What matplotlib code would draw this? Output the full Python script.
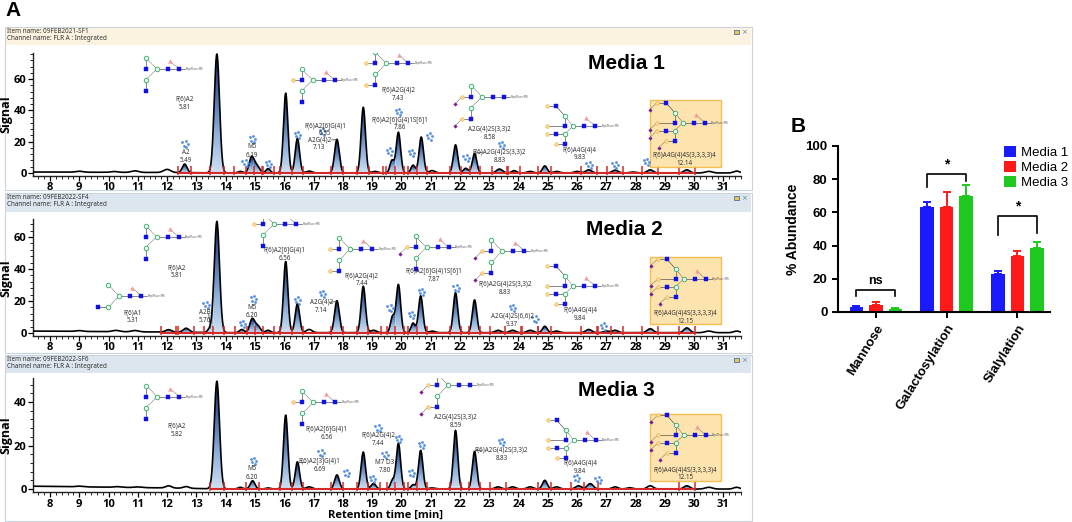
import re
import numpy as np
import matplotlib
matplotlib.use('Agg')
import matplotlib.pyplot as plt
from matplotlib.colors import LinearSegmentedColormap
from matplotlib.patches import Rectangle, PathPatch
from matplotlib.ticker import MultipleLocator

W, H = 1072, 522
XMIN, XMAX = 7.42, 31.6

# ---------------- chromatogram data (retention time, height, width, integrated) -------------
rt_m1 = [9.0, 10.2, 10.9, 12.0, 12.6, 13.7, 14.5, 14.88, 15.05, 15.45, 16.05, 16.45, 16.85, 17.8,
         18.7, 19.1, 19.68, 19.9, 20.4, 20.68, 21.05, 21.85, 22.2, 22.5, 23.35, 23.85, 24.4, 24.9,
         25.3, 26.0, 26.4, 27.3, 27.9, 28.5, 29.75, 30.5, 31.45]
ht_m1 = [0.6, 0.5, 1.0, 2.0, 5.5, 76, 1.0, 9.5, 5.0, 2.8, 51, 22, 1.2, 21.5,
         42, 1.0, 8, 26, 5, 23, 1.5, 18, 3, 12.5, 2.5, 1.5, 1.0, 4.5,
         1.0, 1.0, 2.0, 1.8, 0.6, 2.0, 2.0, 1.0, 1.2]
wd_m1 = [0.12, 0.12, 0.12, 0.12, 0.08, 0.09, 0.08, 0.08, 0.1, 0.07, 0.075, 0.075, 0.1, 0.08,
         0.075, 0.1, 0.07, 0.075, 0.07, 0.075, 0.1, 0.075, 0.08, 0.075, 0.1, 0.08, 0.1, 0.08,
         0.1, 0.1, 0.1, 0.1, 0.1, 0.1, 0.1, 0.12, 0.1]
in_m1 = [0, 0, 0, 0, 1, 1, 1, 1, 1, 1, 1, 1, 0, 1,
         1, 1, 1, 1, 1, 1, 0, 1, 1, 1, 1, 1, 0, 1,
         0, 0, 1, 1, 0, 1, 1, 0, 0]
bl_t_m1, bl_y_m1 = [7.42, 12.0, 14.0, 31.6], [0.6, 0.3, 0.0, 0.0]

rt_m2 = [9.0, 10.25, 10.9, 12.05, 12.65, 13.45, 13.7, 14.55, 14.9, 15.08, 15.45, 16.05, 16.45, 16.85,
         17.8, 18.7, 19.05, 19.7, 19.9, 20.4, 20.66, 21.05, 21.85, 22.5, 23.3, 23.8, 24.4, 24.9,
         25.3, 26.4, 27.0, 27.3, 28.5, 29.75, 30.5, 31.45]
ht_m2 = [0.5, 0.8, 0.8, 1.5, 2.5, 2.0, 69.5, 2.0, 8.0, 4.5, 1.5, 44.5, 18, 2.0,
         20, 29, 1.5, 10, 30, 6, 23, 1.0, 25, 20.5, 1.5, 1.5, 1.5, 4.0,
         1.0, 2.0, 1.0, 1.5, 2.5, 3.0, 1.0, 1.0]
wd_m2 = [0.12, 0.12, 0.12, 0.1, 0.1, 0.07, 0.09, 0.08, 0.08, 0.1, 0.08, 0.075, 0.075, 0.1,
         0.08, 0.075, 0.1, 0.07, 0.075, 0.07, 0.075, 0.1, 0.075, 0.075, 0.1, 0.1, 0.1, 0.08,
         0.1, 0.1, 0.1, 0.1, 0.1, 0.1, 0.12, 0.1]
in_m2 = [0, 0, 0, 1, 1, 1, 1, 1, 1, 1, 1, 1, 1, 0,
         1, 1, 1, 1, 1, 1, 1, 0, 1, 1, 1, 1, 1, 1,
         0, 1, 1, 1, 1, 1, 0, 0]
bl_t_m2, bl_y_m2 = [7.42, 12.0, 14.0, 31.6], [1.2, 0.6, 0.2, 0.2]

rt_m3 = [9.0, 10.3, 11.0, 12.05, 12.65, 13.7, 14.5, 14.92, 15.45, 16.05, 16.45, 16.85, 17.8, 18.7,
         19.05, 19.7, 19.9, 20.4, 20.66, 21.05, 21.85, 22.5, 23.3, 23.8, 24.4, 24.9, 25.3, 26.05,
         26.45, 27.3, 27.8, 28.5, 29.75, 30.5, 31.45]
ht_m3 = [0.3, 0.3, 0.3, 1.0, 0.8, 49.5, 0.8, 3.8, 0.5, 34, 12.5, 1.0, 6.5, 17,
         2.5, 4.0, 21, 2.0, 17.8, 0.5, 27, 17.3, 1.0, 1.0, 1.0, 4.0, 1.0, 1.5,
         2.5, 1.0, 0.6, 1.5, 1.5, 0.8, 0.8]
wd_m3 = [0.12, 0.12, 0.12, 0.1, 0.1, 0.09, 0.08, 0.08, 0.08, 0.075, 0.075, 0.1, 0.08, 0.075,
         0.08, 0.07, 0.075, 0.07, 0.075, 0.1, 0.075, 0.075, 0.1, 0.1, 0.1, 0.08, 0.1, 0.1,
         0.1, 0.1, 0.1, 0.1, 0.1, 0.12, 0.1]
in_m3 = [0, 0, 0, 0, 0, 1, 0, 1, 0, 1, 1, 0, 1, 1,
         1, 1, 1, 1, 1, 0, 1, 1, 1, 0, 0, 1, 0, 1,
         1, 0, 0, 0, 1, 0, 0]
bl_t_m3, bl_y_m3 = [7.42, 12.0, 14.0, 31.6], [1.3, 0.5, 0.0, 0.0]

# peak annotations: (text, x, y)
lab_m1 = [('F(6)A2\n5.81', 12.61, 44.6), ('A2\n5.49', 12.64, 10.7), ('M5\n6.19', 14.9, 14.0),
          ('F(6)A2[6]G(4)1\n6.55', 17.39, 27.7), ('A2G(4)2\n7.13', 17.2, 18.6),
          ('F(6)A2G(4)2\n7.43', 19.89, 50.3), ('F(6)A2[6]G(4)1S[6]1\n7.86', 19.95, 31.5),
          ('A2G(4)2S(3,3)2\n8.58', 23.02, 25.3), ('F(6)A2G(4)2S(3,3)2\n8.83', 23.35, 10.6),
          ('F(6)A4G(4)4\n9.83', 26.09, 12.3), ('F(6)A4G(4)4S(3,3,3,3)4\n12.14', 29.67, 8.6)]
lab_m2 = [('F(6)A1\n5.31', 10.83, 10.1), ('A2B\n5.76', 13.3, 10.5), ('M5\n6.20', 14.9, 13.4),
          ('F(6)A2\n5.81', 12.32, 38.3), ('F(6)A2[6]G(4)1\n6.56', 16.02, 49.3),
          ('A2G(4)2\n7.14', 17.27, 16.8), ('F(6)A2G(4)2\n7.44', 18.64, 33.3),
          ('F(6)A2[6]G(4)1S[6]1\n7.87', 21.1, 36.1), ('F(6)A2G(4)2S(3,3)2\n8.83', 23.53, 28.2),
          ('A2G(4)2S(6,6)2\n9.37', 23.78, 7.9), ('F(6)A4G(4)4\n9.84', 26.1, 11.9),
          ('F(6)A4G(4)4S(3,3,3,3)4\n12.15', 29.7, 10.0)]
lab_m3 = [('F(6)A2\n5.82', 12.32, 26.9), ('M5\n6.20', 14.9, 7.4),
          ('F(6)A2[6]G(4)1\n6.56', 17.45, 25.8), ('F(6)A2[3]G(4)1\n6.69', 17.2, 10.9),
          ('F(6)A2G(4)2\n7.44', 19.2, 23.0), ('M7 D3\n7.80', 19.43, 10.5),
          ('A2G(4)2S(3,3)2\n8.59', 21.86, 31.2), ('F(6)A2G(4)2S(3,3)2\n8.83', 23.42, 16.1),
          ('F(6)A4G(4)4\n9.84', 26.1, 10.0), ('F(6)A4G(4)4S(3,3,3,3)4\n12.15', 29.7, 7.0)]

# leader lines from a label to its peak: (x0, y0, x1, y1)
lead_m1 = [(17.62, 21.1, 17.78, 21.3), (22.55, 12.8, 22.75, 13.0)]
lead_m2 = [(17.55, 19.2, 17.78, 19.6), (13.42, 12.0, 13.48, 3.0)]
lead_m3 = [(16.5, 12.6, 16.72, 12.6), (22.5, 17.9, 22.72, 17.9)]

# glycan cartoons: (structure, x, y of core mannose)
gly_m1 = [('F-A2', 11.65, 66.5), ('F-A2G1', 16.97, 59.4), ('F-A2G2', 19.49, 70),
          ('A2G2S2', 22.76, 48.8), ('F-A4G4', 25.86, 30), ('F-A4G4S4', 29.61, 32.2)]
gly_m2 = [('F-A1', 10.37, 23.1), ('F-A2', 11.64, 60.2), ('F-A2G1', 15.65, 68.1),
          ('F-A2G2', 18.26, 52.5), ('F-A2G1S1', 20.86, 53.5), ('F-A2G2S2', 23.45, 51.2),
          ('F-A4G4', 25.86, 29.4), ('F-A4G4S4', 29.64, 33.8)]
gly_m3 = [('F-A2', 11.66, 42.5), ('F-A2G1', 16.99, 39.8), ('A2G2S2', 21.6, 47.8),
          ('F-A4G4', 25.88, 22.5), ('F-A4G4S4', 29.64, 24.8)]

# small blue "unassigned glycan" icons
ico_m1 = [(12.6, 18.3), (14.66, 6.2), (14.9, 21.5), (15.46, 5.8), (16.45, 24.3), (17.3, 26.4),
          (19.58, 13.6), (19.9, 38.9), (20.34, 12.6), (20.95, 23.2), (22.2, 9.4), (23.42, 17.9),
          (26.4, 5.1), (27.28, 5.1), (28.36, 7.2)]
ico_m2 = [(13.32, 17.5), (14.94, 21), (14.56, 5.6), (16.45, 20.2), (17.3, 24.4), (19.6, 15.4),
          (20.34, 11.2), (20.68, 25.8), (21.86, 27.9), (23.78, 15.8), (24.55, 8.5), (26.9, 4)]
ico_m3 = [(14.94, 12.9), (17.24, 16.4), (18.12, 7.2), (19.01, 4.6), (19.2, 27.9), (19.43, 15.6),
          (19.9, 23), (20.34, 7.2), (20.68, 20.2), (23.42, 21.5), (25.97, 4.9), (26.71, 4.1)]

# highlighted sialylated tetra-antennary peak box: (x0, y0, x1, y1)
box_m1 = (28.5, 4.0, 30.9, 46.6)
box_m2 = (28.5, 5.6, 30.92, 47.3)
box_m3 = (28.5, 3.7, 30.92, 34.5)

media_pos = [(27.68, 70), (27.6, 64.4), (27.34, 45.5)]
item_names = ['09FEB2021-SF1', '09FEB2022-SF4', '09FEB2022-SF6']

# ---------------- bar chart data -------------
cats = ['Mannose', 'Galactosylation', 'Sialylation']
media = ['Media 1', 'Media 2', 'Media 3']
mean_m1 = [2.8, 63.5, 22.7]
mean_m2 = [4.0, 63.0, 34.0]
mean_m3 = [1.7, 70.0, 38.5]
err_m1 = [1.0, 3.0, 1.8]
err_m2 = [2.2, 9.0, 2.5]
err_m3 = [0.7, 6.5, 3.5]
sig_labels = ['ns', '*', '*']
sig_top = [13.2, 83, 58]
sig_drop = [(9.6, 9.6), (75, 79), (46.4, 47.4)]

# ---------------- figure -------------
fig = plt.figure(figsize=(W / 100, H / 100), dpi=100)


def rect(l, t, r, b):
    return [l / W, 1 - b / H, (r - l) / W, (b - t) / H]


bg = fig.add_axes([0, 0, 1, 1], zorder=-5)
bg.set_xlim(0, W)
bg.set_ylim(H, 0)
bg.axis('off')

windows = [(27, 190, 44, '#fbf3df'), (193, 353, 211, '#dde6ee'), (355, 521, 372, '#dde6ee')]
for k, (top, bot, hb, hc) in enumerate(windows):
    bg.add_patch(Rectangle((5, top), 747, bot - top, fc='white', ec='#c9d3dc', lw=0.8))
    bg.add_patch(Rectangle((5.5, top + 0.5), 745, hb - top, fc=hc, ec='none'))
    bg.text(7, top + 4.8, 'Item name: ' + item_names[k], fontsize=4.6, color='#333333',
            va='center', family='Noto Sans')
    bg.text(7, top + 12, 'Channel name: FLR A : Integrated', fontsize=4.6, color='#333333',
            va='center', family='Noto Sans')
    bg.add_patch(Rectangle((734, top + 2.5), 4.5, 4.5, fc='#e8c84a', ec='#4a6fb0', lw=0.6))
    bg.text(744, top + 4.8, '×', fontsize=5, color='#6080a0', va='center', ha='center')

bg.text(13, 11, 'A', fontsize=15, fontweight='bold', ha='center', va='center', family='Liberation Sans')
bg.text(798, 126, 'B', fontsize=15, fontweight='bold', ha='center', va='center', family='Liberation Sans')
bg.text(385, 515.5, 'Retention time [min]', fontsize=8, fontweight='bold', family='Open Sans',
        ha='center', va='center')

PEAK_CMAP = LinearSegmentedColormap.from_list('pk', ['#cfe0f2', '#8fb1da', '#4a6ca8', '#16255e'])
GRAD = np.linspace(0, 1, 128).reshape(-1, 1)

STY = {'glc': dict(marker='s', ms=3.3, mfc='#1010e8', mec='#1010e8', mew=0.3),
       'man': dict(marker='o', ms=3.2, mfc='white', mec='#3cb371', mew=0.7),
       'gal': dict(marker='o', ms=2.6, mfc='#ffd68a', mec='#e5b55a', mew=0.4),
       'sia': dict(marker='D', ms=1.8, mfc='#7a1a8a', mec='#7a1a8a', mew=0.3),
       'fuc': dict(marker='^', ms=2.8, mfc='#f49a9a', mec='#f49a9a', mew=0.3)}


def glycan(ax, x0, y0, kind, sx, sy):
    fuc = kind.startswith('F')
    n_ant = int(re.search(r'A(\d)', kind).group(1))
    g = re.search(r'G(\d)', kind)
    s = re.search(r'S(\d)', kind)
    n_gal = int(g.group(1)) if g else 0
    n_sia = int(s.group(1)) if s else 0
    res = [('man', 0, 0), ('glc', 11, 0), ('glc', 22, 0)]
    bonds = [(0, 1, '-'), (1, 2, '-')]
    if n_ant == 4:
        arms = [(-8, 10), (-8, -8)]
        ants = [(0, -17, 20, -26), (0, -8, 0, -26), (1, -17, -8, -26), (1, -8, -18, -17)]
    else:
        arms = [(-11, 11), (-11, -11)]
        ants = [(0, -11, 0, -20), (1, -11, -22, -20)]
        if n_ant == 1:
            ants = [(1, -21, -11, -30)]
    arm_idx = []
    for dx, dy in arms:
        res.append(('man', dx, dy))
        arm_idx.append(len(res) - 1)
        bonds.append((0, len(res) - 1, '--'))
    for k, (a, dx, dy, gx) in enumerate(ants):
        res.append(('glc', dx, dy))
        gi = len(res) - 1
        bonds.append((arm_idx[a], gi, '-'))
        if k < n_gal:
            res.append(('gal', gx, dy))
            li = len(res) - 1
            bonds.append((gi, li, '-'))
            if k < n_sia:
                res.append(('sia', gx - 7, dy - 7))
                bonds.append((li, len(res) - 1, '--'))
    if fuc:
        res.append(('fuc', 13, 8))
        bonds.append((2, len(res) - 1, '--'))
    X = [x0 + r[1] / sx for r in res]
    Y = [y0 + r[2] / sy for r in res]
    for i, j, ls in bonds:
        ax.plot([X[i], X[j]], [Y[i], Y[j]], ls=ls, color='#444444', lw=0.45,
                dashes=(1.5, 1.0) if ls == '--' else (None, None), zorder=7)
    ax.plot([X[2], x0 + 28 / sx], [y0, y0], color='#444444', lw=0.45, zorder=7)
    ax.text(x0 + 28.5 / sx, y0, 'RapiFluor-MS', fontsize=2.0, color='#555555', va='center',
            ha='left', zorder=7)
    for (t, _, _), xx, yy in zip(res, X, Y):
        ax.plot(xx, yy, ls='none', zorder=8, **STY[t])


def cluster(ax, x0, y0, sx, sy):
    off = [(-2.5, 2.0), (1.0, 3.2), (3.0, 0.2), (-1.0, -1.2), (1.8, -3.0)]
    ax.plot([x0 + dx / sx for dx, _ in off], [y0 + dy / sy for _, dy in off], ls='none',
            marker='o', ms=1.7, mfc='#4d8fe6', mec='#2f6fd0', mew=0.2, zorder=6)


def chromatogram(ax, rt, ht, wd, integ, bl_t, bl_y, ylim, labels, leads, glys, icons, box, mpos, title):
    ax.set_xlim(XMIN, XMAX)
    ax.set_ylim(*ylim)
    bb = ax.get_position()
    sx = bb.width * W / (XMAX - XMIN)
    sy = bb.height * H / (ylim[1] - ylim[0])
    x = np.linspace(XMIN, XMAX, 5000)
    y = np.interp(x, bl_t, bl_y)
    for t, h, w in zip(rt, ht, wd):
        y = y + h * np.exp(-0.5 * ((x - t) / w) ** 2)
    pk = [(t, w) for t, w, f in zip(rt, wd, integ) if f]
    bounds = []
    for i, (t, w) in enumerate(pk):
        a, b = t - 2.7 * w, t + 2.7 * w
        if i > 0:
            a = max(a, (pk[i - 1][0] + t) / 2)
        if i < len(pk) - 1:
            b = min(b, (t + pk[i + 1][0]) / 2)
        bounds.append((a, b))
    for a, b in bounds:
        m = (x >= a) & (x <= b)
        xs, ys = x[m], y[m]
        poly = ax.fill_between(xs, 0, ys, facecolor='none', edgecolor='none')
        patch = PathPatch(poly.get_paths()[0], transform=ax.transData, fc='none', ec='none')
        ax.add_patch(patch)
        im = ax.imshow(GRAD, extent=(a, b, 0, ys.max()), origin='lower', cmap=PEAK_CMAP,
                       aspect='auto', zorder=1.5, interpolation='bilinear')
        im.set_clip_path(patch)
    ax.plot(x, y, color='black', lw=1.2, zorder=3)
    ax.hlines(0, bounds[0][0], bounds[-1][1], color='#d42a2a', lw=1.5, zorder=4)
    tick = 7 / sy
    edges = sorted(set([round(v, 3) for ab in bounds for v in ab]))
    ax.vlines(edges, -0.3 * tick, tick, color='#d42a2a', lw=1.1, zorder=4)

    if box is not None:
        ax.add_patch(Rectangle((box[0], box[1]), box[2] - box[0], box[3] - box[1],
                               fc='#fde0a0', ec='#f2b63c', lw=1.0, alpha=0.85, zorder=5))
    for txt, tx, ty in labels:
        ax.text(tx, ty, txt, fontsize=4.5, color='#333333', ha='center', va='center',
                family='Noto Sans', linespacing=1.25, zorder=9)
    for x0, y0, x1, y1 in leads:
        ax.plot([x0, x1], [y0, y1], color='#333333', lw=0.5, zorder=9)
    for kind, gx, gy in glys:
        glycan(ax, gx, gy, kind, sx, sy)
    for cx, cy in icons:
        cluster(ax, cx, cy, sx, sy)
    ax.text(mpos[0], mpos[1], title, fontsize=15, fontweight='bold', ha='center', va='center',
            family='Liberation Sans', zorder=9)

    ax.patch.set_alpha(0)
    for sp in ['top', 'right']:
        ax.spines[sp].set_visible(False)
    for sp in ['left', 'bottom']:
        ax.spines[sp].set_color('#222222')
        ax.spines[sp].set_linewidth(1.0)
    ax.set_xticks(range(8, 32))
    ax.xaxis.set_minor_locator(MultipleLocator(0.2))
    ax.yaxis.set_major_locator(MultipleLocator(20))
    ax.yaxis.set_minor_locator(MultipleLocator(4))
    ax.tick_params(which='major', length=3.5, width=0.9, labelsize=8, pad=1)
    ax.tick_params(which='minor', length=2, width=0.6)
    for lab in ax.get_xticklabels() + ax.get_yticklabels():
        lab.set_fontweight('bold')
        lab.set_family('Open Sans')
    ax.set_ylabel('Signal', fontsize=9, fontweight='bold', family='Open Sans')
    ax.yaxis.set_label_coords(-0.029, 0.5)
    ax.set_xlim(XMIN, XMAX)
    ax.set_ylim(*ylim)


ax1 = fig.add_axes(rect(33, 52.5, 741, 176.1))
ax2 = fig.add_axes(rect(33, 219.4, 741, 336.2))
ax3 = fig.add_axes(rect(33, 378.1, 741, 492.3))
chromatogram(ax1, rt_m1, ht_m1, wd_m1, in_m1, bl_t_m1, bl_y_m1, (-2, 77), lab_m1, lead_m1, gly_m1,
             ico_m1, box_m1, media_pos[0], 'Media 1')
chromatogram(ax2, rt_m2, ht_m2, wd_m2, in_m2, bl_t_m2, bl_y_m2, (-2, 71), lab_m2, lead_m2, gly_m2,
             ico_m2, box_m2, media_pos[1], 'Media 2')
chromatogram(ax3, rt_m3, ht_m3, wd_m3, in_m3, bl_t_m3, bl_y_m3, (-1.5, 51), lab_m3, lead_m3, gly_m3,
             ico_m3, box_m3, media_pos[2], 'Media 3')

# ---------------- panel B -------------
axb = fig.add_axes(rect(838, 146, 1050, 312))
xc = np.arange(len(cats))
off, bw = 0.275, 0.19
cols = ['#1a1aff', '#ff1a1a', '#1ec81e']
means = [mean_m1, mean_m2, mean_m3]
errs = [err_m1, err_m2, err_m3]
for k in range(3):
    pos = xc + (k - 1) * off
    axb.bar(pos, means[k], width=bw, color=cols[k], label=media[k], zorder=2)
    axb.errorbar(pos, means[k], yerr=[np.zeros(3), errs[k]], fmt='none', ecolor=cols[k],
                 elinewidth=1.4, capsize=3, capthick=1.4, zorder=2)
for i in range(3):
    xl, xr = xc[i] - off, xc[i] + off
    axb.plot([xl, xl, xr, xr], [sig_drop[i][0], sig_top[i], sig_top[i], sig_drop[i][1]],
             color='black', lw=1.2)
    axb.text(xc[i], sig_top[i] + (1.5 if sig_labels[i] == '*' else 2.0), sig_labels[i],
             ha='center', va='bottom', fontsize=9 if sig_labels[i] == 'ns' else 10,
             fontweight='bold', family='Liberation Sans')
axb.set_xlim(-0.535, 2.46)
axb.set_ylim(0, 100)
axb.set_yticks(range(0, 101, 20))
axb.set_xticks(xc)
axb.set_xticklabels(cats, rotation=58, ha='right', rotation_mode='anchor')
for sp in ['top', 'right']:
    axb.spines[sp].set_visible(False)
for sp in ['left', 'bottom']:
    axb.spines[sp].set_linewidth(1.5)
axb.tick_params(length=4, width=1.4, labelsize=9.5)
for lab in axb.get_xticklabels() + axb.get_yticklabels():
    lab.set_fontweight('bold')
    lab.set_family('Liberation Sans')
axb.set_ylabel('% Abundance', fontsize=10, fontweight='bold', family='Liberation Sans', labelpad=4)
axb.legend(loc='upper left', bbox_to_anchor=((1004 - 838) / 212, 1.0), frameon=False,
           prop={'family': 'Liberation Sans', 'size': 9.5}, handlelength=0.9, handleheight=0.9,
           handletextpad=0.4, labelspacing=0.15, borderaxespad=0, borderpad=0)

fig.savefig('out.png', dpi=100)
